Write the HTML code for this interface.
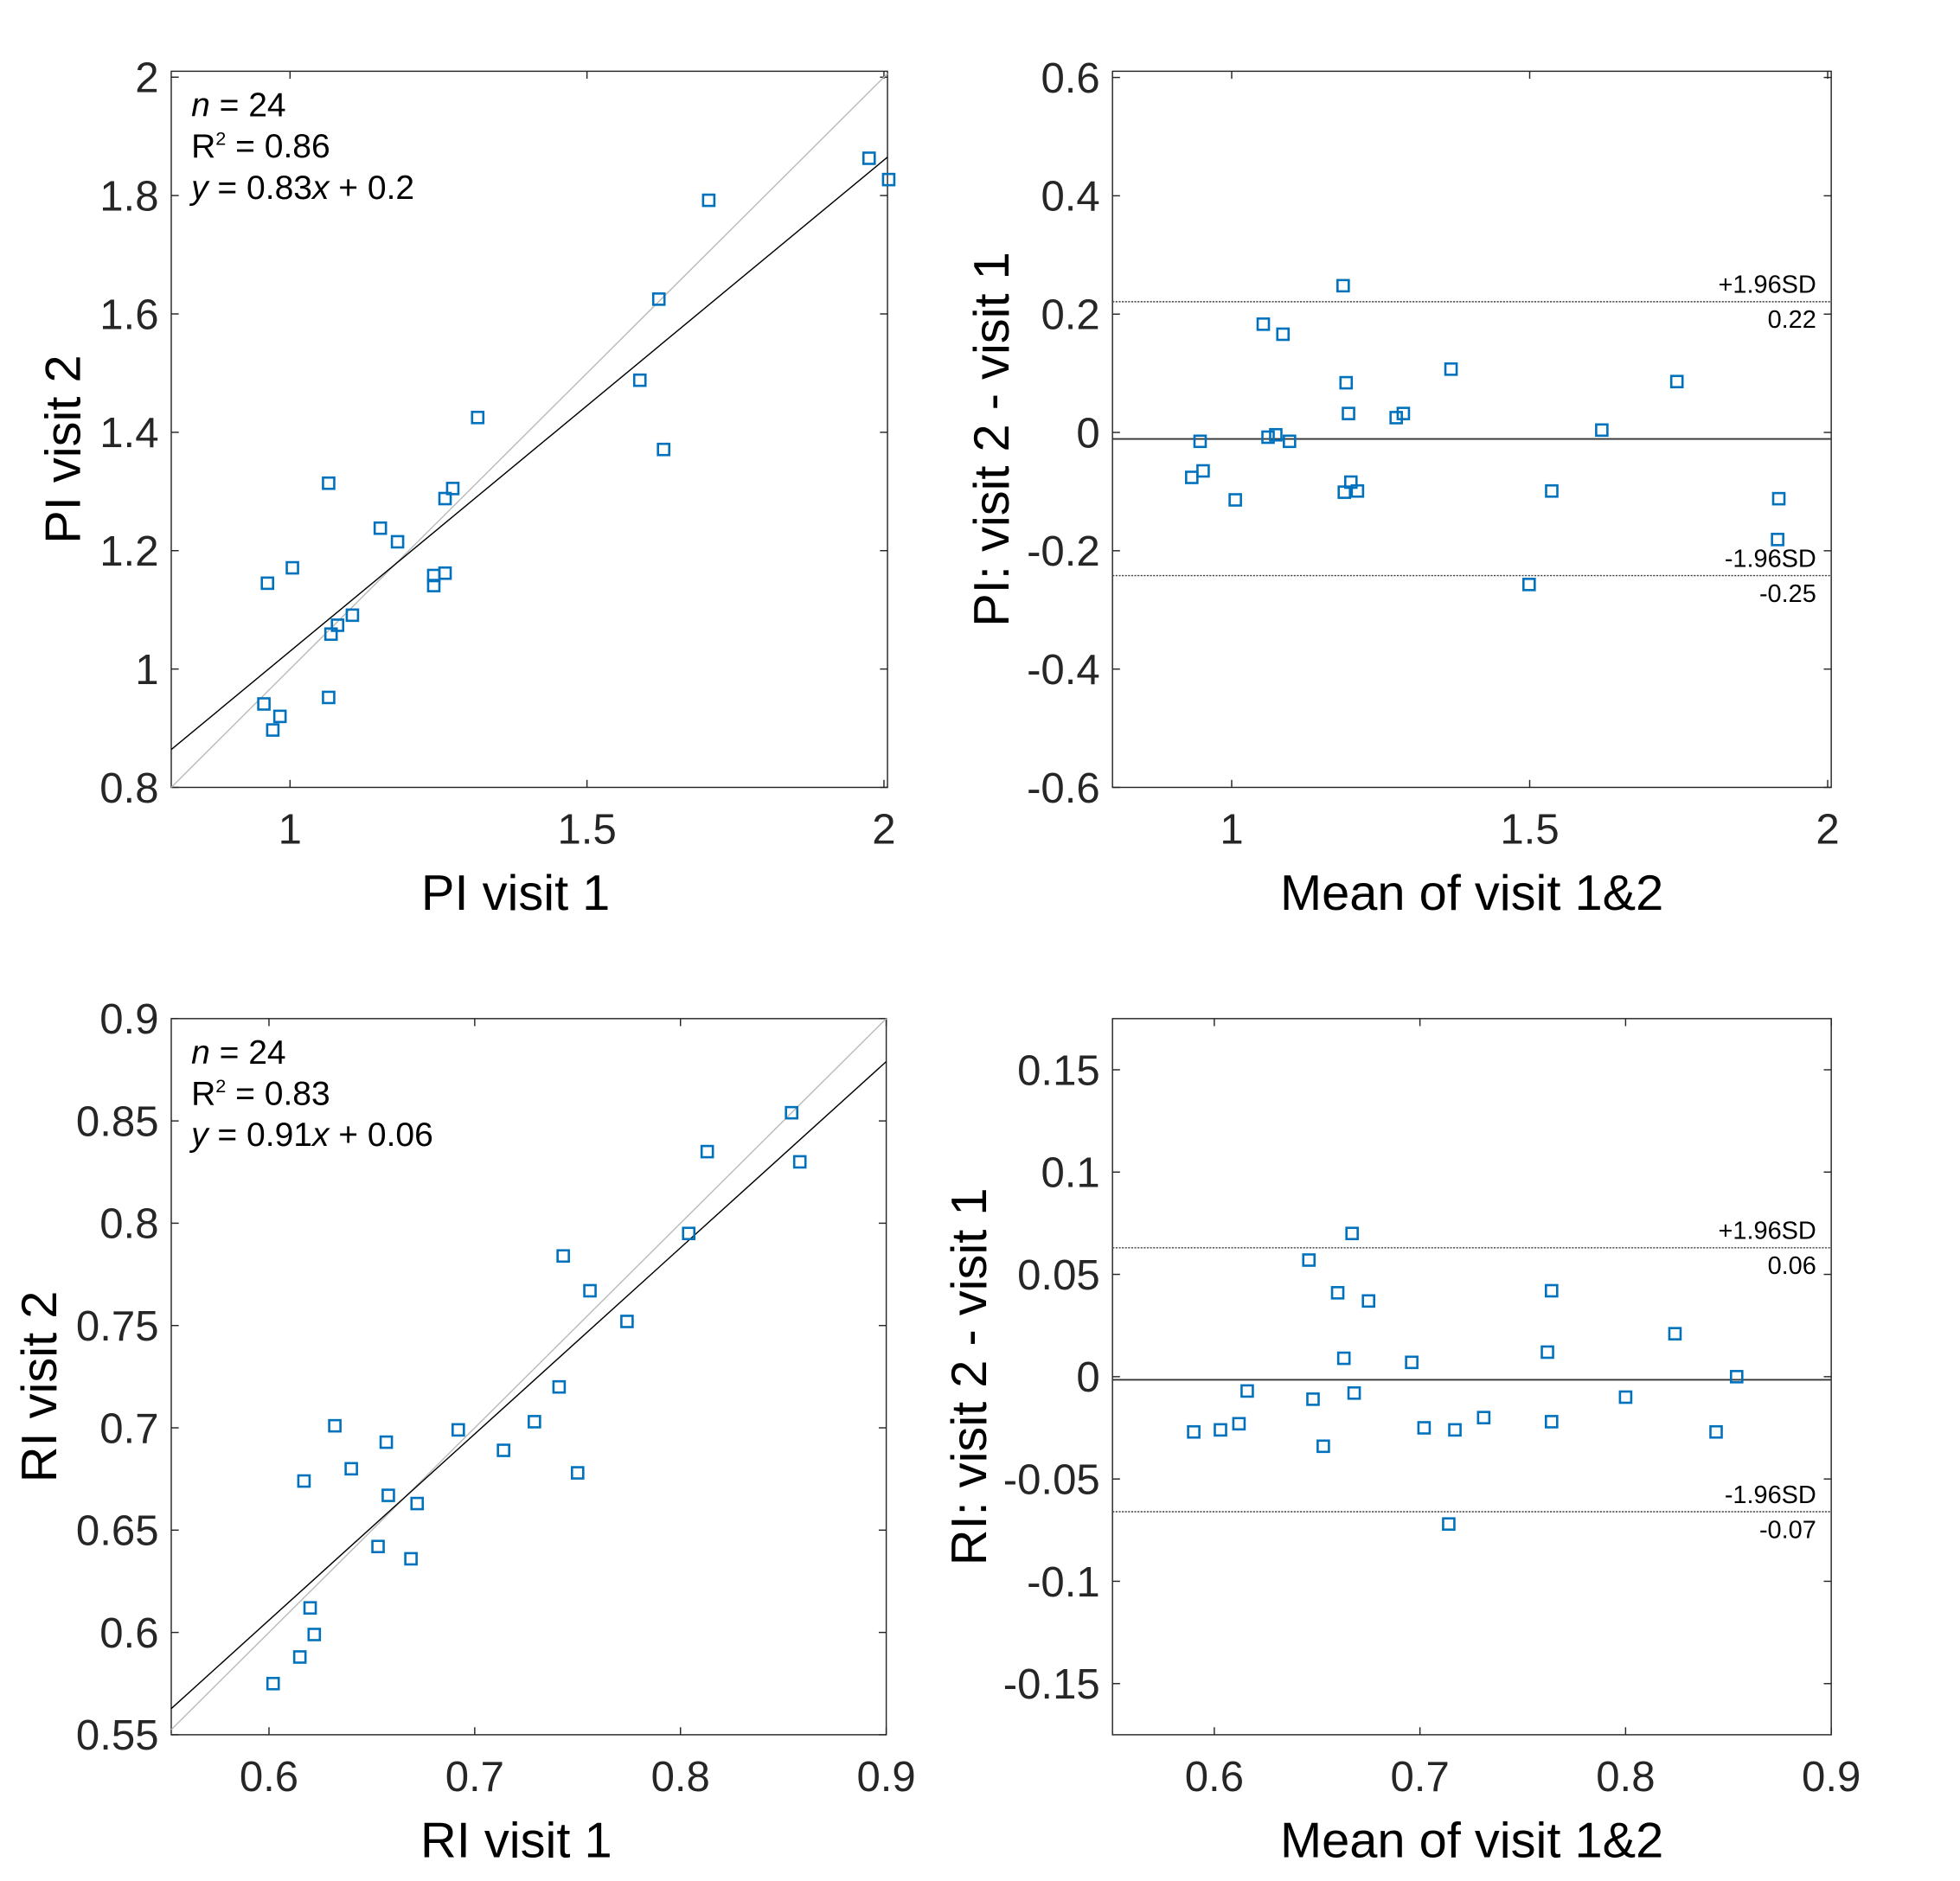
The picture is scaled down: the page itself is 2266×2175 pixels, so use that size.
<!DOCTYPE html>
<html><head><meta charset="utf-8"><style>
html,body{margin:0;padding:0;background:#fff;}
svg{display:block;font-family:"Liberation Sans",Arial,sans-serif;}
</style></head><body>
<svg id="fig" width="2266" height="2175" viewBox="0 0 1568 1505" xmlns="http://www.w3.org/2000/svg"></svg>
<script>
// ---- Data ----
const piVisit1 = [0.962,1.004,0.956,0.983,0.971,1.065,1.065,1.069,1.08,1.105,1.152,1.181,1.242,1.242,1.261,1.261,1.274,1.316,1.589,1.621,1.629,1.705,1.975,2.008];
const piVisit2 = [1.145,1.171,0.941,0.92,0.897,0.952,1.314,1.059,1.074,1.091,1.238,1.215,1.158,1.141,1.162,1.288,1.305,1.425,1.488,1.625,1.371,1.792,1.863,1.827];
const piFit = [0.83, 0.2];
const piMean = [0.933,0.947,0.952,1.006,1.053,1.061,1.074,1.086,1.097,1.187,1.192,1.196,1.189,1.2,1.211,1.276,1.288,1.368,1.499,1.537,1.621,1.747,1.918,1.916];
const piDiff = [-0.076,-0.015,-0.065,-0.114,0.183,-0.008,-0.004,0.166,-0.015,0.248,0.084,0.032,-0.101,-0.084,-0.099,0.025,0.032,0.107,-0.257,-0.099,0.004,0.086,-0.112,-0.181];
const piBland = [-0.011, 0.221, -0.242];
const piBlandLabels = ["0.22","-0.25"];
const riVisit1 = [0.602,0.615,0.617,0.62,0.622,0.632,0.64,0.653,0.657,0.658,0.669,0.672,0.692,0.714,0.729,0.741,0.743,0.75,0.756,0.774,0.804,0.813,0.854,0.858];
const riVisit2 = [0.575,0.588,0.674,0.612,0.599,0.701,0.68,0.642,0.693,0.667,0.636,0.663,0.699,0.689,0.703,0.72,0.784,0.678,0.767,0.752,0.795,0.835,0.854,0.83];
const riFit = [0.91, 0.06];
const riMean = [0.59,0.603,0.612,0.616,0.646,0.648,0.653,0.66,0.663,0.667,0.668,0.675,0.696,0.702,0.714,0.717,0.731,0.762,0.764,0.764,0.8,0.824,0.844,0.854];
const riDiff = [-0.027,-0.026,-0.023,-0.007,0.057,-0.011,-0.034,0.041,0.009,0.07,-0.008,0.037,0.007,-0.025,-0.072,-0.026,-0.02,0.012,0.042,-0.022,-0.01,0.021,-0.027,0.0];
const riBland = [-0.0015, 0.063, -0.066];
const riBlandLabels = ["0.06","-0.07"];
const piXTicks = [1,1.5,2], piXTickLabels = ["1","1.5","2"];
const piYTicks = [0.8,1,1.2,1.4,1.6,1.8,2], piYTickLabels = ["0.8","1","1.2","1.4","1.6","1.8","2"];
const piDYTicks = [-0.6,-0.4,-0.2,0,0.2,0.4,0.6], piDYTickLabels = ["-0.6","-0.4","-0.2","0","0.2","0.4","0.6"];
const riXTicks = [0.6,0.7,0.8,0.9], riXTickLabels = ["0.6","0.7","0.8","0.9"];
const riYTicks = [0.55,0.6,0.65,0.7,0.75,0.8,0.85,0.9], riYTickLabels = ["0.55","0.6","0.65","0.7","0.75","0.8","0.85","0.9"];
const riDYTicks = [-0.15,-0.1,-0.05,0,0.05,0.1,0.15], riDYTickLabels = ["-0.15","-0.1","-0.05","0","0.05","0.1","0.15"];

const NS = "http://www.w3.org/2000/svg";
const fig = document.getElementById('fig');
function mk(tag, attrs, parent, txt){
  const e = document.createElementNS(NS, tag);
  for (const k in attrs) e.setAttribute(k, attrs[k]);
  if (txt !== undefined) e.textContent = txt;
  (parent || fig).appendChild(e);
  return e;
}

function panel(o){
  const g = mk('g', {});
  
  
  const sx = v => o.L + (v - o.x0) / (o.x1 - o.x0) * (o.R - o.L);
  const sy = v => o.B - (v - o.y0) / (o.y1 - o.y0) * (o.B - o.T);
  const box = mk('rect', {x:o.L, y:o.T, width:o.R-o.L, height:o.B-o.T, fill:'none', stroke:'#262626', 'stroke-width':1}, g);
  
  
  o.xt.forEach((v,i)=>{
    const x = sx(v);
    mk('line',{x1:x,y1:o.B,x2:x,y2:o.B-6,stroke:'#262626'},g);
    mk('line',{x1:x,y1:o.T,x2:x,y2:o.T+6,stroke:'#262626'},g);
    const t = mk('text',{x:x,y:o.B+45,'text-anchor':'middle','font-size':34,fill:'#262626'},g,o.xtl[i]);
    
    
  });
  o.yt.forEach((v,i)=>{
    const y = sy(v);
    mk('line',{x1:o.L,y1:y,x2:o.L+6,y2:y,stroke:'#262626'},g);
    mk('line',{x1:o.R,y1:y,x2:o.R-6,y2:y,stroke:'#262626'},g);
    const t = mk('text',{x:o.L-10,y:y+12,'text-anchor':'end','font-size':34,fill:'#262626'},g,o.ytl[i]);
    
    
  });
  const xt = mk('text',{x:(o.L+o.R)/2+o.xdx,y:o.B+98,'text-anchor':'middle','font-size':40,fill:'#000'},g,o.xlabel);
  
  
  const yt = mk('text',{x:0,y:0,'text-anchor':'middle','font-size':40,fill:'#000',transform:`translate(${o.ylx},${(o.T+o.B)/2+o.ydy}) rotate(-90)`},g,o.ylabel);
  
  
  if (o.fit){
    const idl = mk('line',{x1:sx(o.x0),y1:sy(o.x0),x2:sx(o.x1),y2:sy(o.x1),stroke:'#bbb','stroke-width':1},g);
    
    
    const fl = mk('line',{x1:sx(o.x0),y1:sy(o.fit[0]*o.x0+o.fit[1]),x2:sx(o.x1),y2:sy(o.fit[0]*o.x1+o.fit[1]),stroke:'#000','stroke-width':1},g);
    
    
    const lines = o.ann;
    const a1 = mk('text',{x:o.L+16,y:o.T+36,'font-size':27},g);
    
    
    mk('tspan',{'font-style':'italic'},a1,'n'); mk('tspan',{},a1,' = 24');
    const a2 = mk('text',{x:o.L+16,y:o.T+69,'font-size':27},g);
    
    
    mk('tspan',{},a2,'R'); mk('tspan',{'font-size':15,dy:-10},a2,'2'); mk('tspan',{dy:10},a2,' = '+lines[0]);
    const a3 = mk('text',{x:o.L+16,y:o.T+102,'font-size':27},g);
    
    
    mk('tspan',{'font-style':'italic'},a3,'y'); mk('tspan',{},a3,' = '+lines[1]); mk('tspan',{'font-style':'italic'},a3,'x'); mk('tspan',{},a3,' + '+lines[2]);
  }
  if (o.bland){
    const ml = mk('line',{x1:o.L,y1:sy(o.bland[0]),x2:o.R,y2:sy(o.bland[0]),stroke:'#333','stroke-width':1.3},g);
    
    
    [1,2].forEach(k=>{
      const y = sy(o.bland[k]);
      const l = mk('line',{x1:o.L,y1:y,x2:o.R,y2:y,stroke:'#444','stroke-width':1,'stroke-dasharray':'1.5,1'},g);
      
      
      const t1 = mk('text',{x:o.R-12,y:y-7,'text-anchor':'end','font-size':20},g,k===1?'+1.96SD':'-1.96SD');
      
      
      const t2 = mk('text',{x:o.R-12,y:y+21,'text-anchor':'end','font-size':20},g,o.blandLabels[k-1]);
      
      
    });
  }
  o.xs.forEach((v,i)=>{
    const p = mk('rect',{x:sx(v)-4.5,y:sy(o.ys[i])-4.5,width:9,height:9,fill:'none',stroke:'#0072BD','stroke-width':1.8},g);
    
    
  });
}

panel({name:'pi-scatter-panel',L:137,R:710,T:57,B:630,x0:0.8,x1:2.006,y0:0.8,y1:2.01,
  xt:piXTicks,xtl:piXTickLabels,yt:piYTicks,ytl:piYTickLabels,xlabel:'PI visit 1',ylabel:'PI visit 2',ylx:64,xdx:-11,ydy:16,
  xs:piVisit1,ys:piVisit2,fit:piFit,ann:['0.86','0.83','0.2']});
panel({name:'pi-bland-altman-panel',L:890,R:1465,T:57,B:630,x0:0.8,x1:2.006,y0:-0.6,y1:0.6105,
  xt:piXTicks,xtl:piXTickLabels,yt:piDYTicks,ytl:piDYTickLabels,xlabel:'Mean of visit 1&2',ylabel:'PI: visit 2 - visit 1',ylx:807,xdx:0,ydy:8,
  xs:piMean,ys:piDiff,bland:piBland,blandLabels:piBlandLabels});
panel({name:'ri-scatter-panel',L:137,R:709,T:815,B:1388,x0:0.5525,x1:0.9,y0:0.55,y1:0.9,
  xt:riXTicks,xtl:riXTickLabels,yt:riYTicks,ytl:riYTickLabels,xlabel:'RI visit 1',ylabel:'RI visit 2',ylx:45,xdx:-10,ydy:8,
  xs:riVisit1,ys:riVisit2,fit:riFit,ann:['0.83','0.91','0.06']});
panel({name:'ri-bland-altman-panel',L:890,R:1465,T:815,B:1388,x0:0.5505,x1:0.9,y0:-0.175,y1:0.175,
  xt:riXTicks,xtl:riXTickLabels,yt:riDYTicks,ytl:riDYTickLabels,xlabel:'Mean of visit 1&2',ylabel:'RI: visit 2 - visit 1',ylx:789,xdx:0,ydy:0,
  xs:riMean,ys:riDiff,bland:riBland,blandLabels:riBlandLabels});
</script>
</body></html>
